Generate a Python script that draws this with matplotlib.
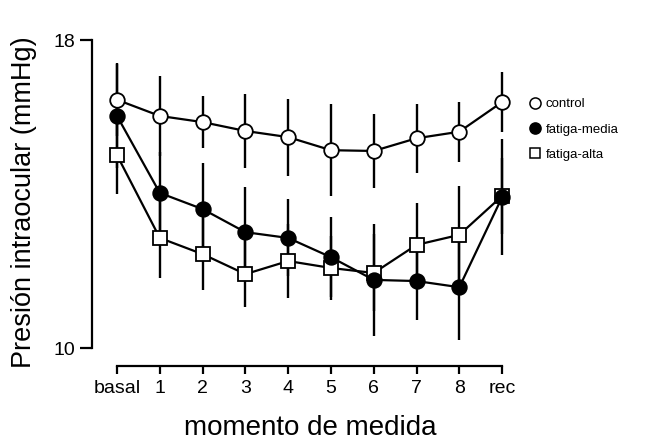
import matplotlib
matplotlib.use("Agg")
import matplotlib.pyplot as plt
from matplotlib.lines import Line2D

# -----------------------------------------------------------------------------
# Data (mean +/- error, mmHg)
# -----------------------------------------------------------------------------
moments = ["basal", "1", "2", "3", "4", "5", "6", "7", "8", "rec"]

control_mean = [16.45, 16.03, 15.87, 15.64, 15.48, 15.14, 15.12, 15.45, 15.62, 16.39]
control_err = [0.95, 1.04, 0.68, 0.96, 1.00, 1.20, 0.97, 0.90, 0.78, 0.77]

media_mean = [16.03, 14.03, 13.61, 13.01, 12.86, 12.36, 11.77, 11.74, 11.58, 13.92]
media_err = [1.35, 1.07, 1.20, 1.17, 1.00, 1.04, 1.45, 1.00, 1.38, 1.50]

alta_mean = [15.01, 12.86, 12.44, 11.92, 12.26, 12.08, 11.95, 12.68, 12.94, 13.95]
alta_err = [1.00, 1.04, 0.94, 0.86, 0.96, 0.83, 1.00, 1.10, 1.27, 1.00]

series_names = ["control", "fatiga-media", "fatiga-alta"]

plt.rcParams["font.family"] = ["Liberation Sans", "DejaVu Sans"]

fig = plt.figure(figsize=(6.55, 4.41), dpi=100)
ax = fig.add_axes([0.1405, 0.170, 0.6535, 0.739])

x = list(range(len(moments)))

# error bars first, then lines with markers on top
for mean, err in [(control_mean, control_err), (media_mean, media_err), (alta_mean, alta_err)]:
    ax.errorbar(x, mean, yerr=err, fmt="none", ecolor="black", elinewidth=1.7,
                capsize=0, zorder=1, clip_on=False)

ax.plot(x, alta_mean, "-s", color="black", lw=1.6, ms=9.5, mfc="white", mec="black",
        mew=1.3, zorder=2, clip_on=False)
ax.plot(x, media_mean, "-o", color="black", lw=1.6, ms=10.5, mfc="black", mec="black",
        mew=1.3, zorder=3, clip_on=False)
ax.plot(x, control_mean, "-o", color="black", lw=1.6, ms=10.5, mfc="white", mec="black",
        mew=1.3, zorder=4, clip_on=False)

ax.set_xlim(-0.584, 9.42)
ax.set_ylim(9.532, 18.0)

ax.spines["top"].set_visible(False)
ax.spines["right"].set_visible(False)
ax.spines["left"].set_bounds(10, 18)
ax.spines["bottom"].set_bounds(0, 9)
ax.spines["left"].set_linewidth(1.6)
ax.spines["bottom"].set_linewidth(1.6)

ax.set_yticks([10, 18])
ax.set_xticks(x)
ax.set_xticklabels(moments)
ax.tick_params(axis="y", direction="out", length=9, width=1.6, labelsize=14, pad=3)
ax.tick_params(axis="x", direction="out", length=6, width=1.6, labelsize=14, pad=4)

fig.text(0.036, 0.541, "Presión intraocular (mmHg)", rotation=90, fontsize=19.5,
         ha="center", va="center")
fig.text(0.474, 0.030, "momento de medida", fontsize=20, ha="center", va="center")

handles = [
    Line2D([], [], ls="none", marker="o", ms=8, mfc="white", mec="black", mew=1.1),
    Line2D([], [], ls="none", marker="o", ms=8, mfc="black", mec="black", mew=1.1),
    Line2D([], [], ls="none", marker="s", ms=7.5, mfc="white", mec="black", mew=1.1),
]
fig.legend(handles, series_names, loc="upper left", bbox_to_anchor=(0.800, 0.790),
           frameon=False, fontsize=9.5, handlelength=0.8, handletextpad=0.45,
           labelspacing=1.0, borderaxespad=0)

fig.savefig("out.png", dpi=100)
